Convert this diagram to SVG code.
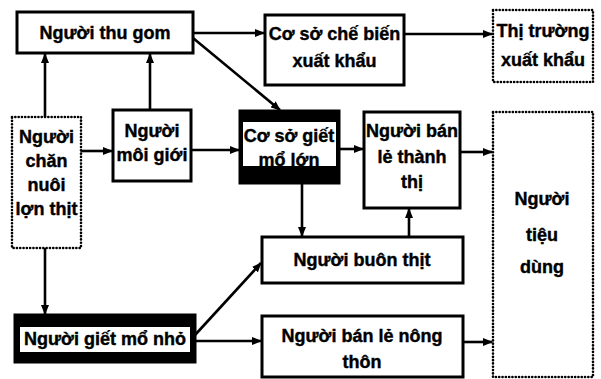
<svg xmlns="http://www.w3.org/2000/svg" width="601" height="379" viewBox="0 0 601 379">
<defs>
<marker id="ah" markerWidth="10" markerHeight="8" refX="9" refY="4" orient="auto" markerUnits="userSpaceOnUse">
<path d="M0,0 L10,4 L0,8 Z" fill="#000"/>
</marker>
<style>
.box{fill:#fff;stroke:#000;stroke-width:3}
.dot{fill:#fff;stroke:#000;stroke-width:2.6;stroke-dasharray:0.1 3.2;stroke-linecap:round}
.blk{fill:#000;stroke:#000;stroke-width:3}
.t{font-family:"Liberation Sans",Arial,sans-serif;font-weight:bold;font-size:18px;fill:#000;stroke:#000;stroke-width:0.4;text-anchor:middle}
.c{stroke:#000;stroke-width:2.6;fill:none;marker-end:url(#ah)}
</style>
</defs>
<rect width="601" height="379" fill="#fff"/>
<g id="connectors">
<line class="c" x1="193" y1="33" x2="264" y2="33"/>
<line class="c" x1="404" y1="34" x2="492" y2="34"/>
<line class="c" x1="45" y1="117" x2="45" y2="54"/>
<line class="c" x1="150" y1="110" x2="150" y2="54"/>
<line class="c" x1="193" y1="38" x2="280" y2="110"/>
<line class="c" x1="81" y1="151" x2="112" y2="151"/>
<line class="c" x1="191" y1="150" x2="239" y2="150"/>
<line class="c" x1="339" y1="149" x2="363" y2="149"/>
<line class="c" x1="460" y1="152" x2="492" y2="152"/>
<line class="c" x1="302" y1="183" x2="302" y2="236"/>
<line class="c" x1="409" y1="237" x2="409" y2="209"/>
<line class="c" x1="45" y1="248" x2="45" y2="314"/>
<line class="c" x1="195" y1="335" x2="261" y2="263"/>
<line class="c" x1="195" y1="341" x2="261" y2="341"/>
<line class="c" x1="463" y1="342" x2="492" y2="342"/>
</g>
<g id="thugom">
<rect class="box" x="17" y="12" width="176" height="41"/>
<text class="t" x="105" y="39">Người thu gom</text>
</g>
<g id="chebien">
<rect class="box" x="265" y="15" width="139" height="70"/>
<text class="t" x="334.5" y="40">Cơ sở chế biến</text>
<text class="t" x="334.5" y="67">xuất khẩu</text>
</g>
<g id="thitruong">
<rect class="dot" x="493" y="10" width="100" height="72"/>
<text class="t" x="543" y="37">Thị trường</text>
<text class="t" x="543" y="66">xuất khẩu</text>
</g>
<g id="channuoi">
<rect class="dot" x="12" y="117" width="69" height="131"/>
<text class="t" x="46.5" y="143">Người</text>
<text class="t" x="46.5" y="167">chăn</text>
<text class="t" x="46.5" y="191">nuôi</text>
<text class="t" x="46.5" y="215">lợn thịt</text>
</g>
<g id="moigioi">
<rect class="box" x="113" y="110" width="78" height="71"/>
<text class="t" x="152" y="137">Người</text>
<text class="t" x="152" y="161">môi giới</text>
</g>
<g id="gietmolon">
<rect class="blk" x="240" y="111" width="99" height="72"/>
<rect x="243" y="122" width="93" height="44" fill="#fff"/>
<text class="t" x="289" y="142">Cơ sở giết</text>
<text class="t" x="289" y="166">mổ lớn</text>
</g>
<g id="banlethanhthi">
<rect class="box" x="364" y="112" width="96" height="96"/>
<text class="t" x="412" y="137">Người bán</text>
<text class="t" x="412" y="163">lẻ thành</text>
<text class="t" x="412" y="188">thị</text>
</g>
<g id="tieudung">
<rect class="dot" x="493" y="112" width="100" height="265"/>
<text class="t" x="542" y="205">Người</text>
<text class="t" x="542" y="241">tiệu</text>
<text class="t" x="542" y="273">dùng</text>
</g>
<g id="buonthit">
<rect class="box" x="262" y="237" width="201" height="46"/>
<text class="t" x="362" y="266">Người buôn thịt</text>
</g>
<g id="gietmonho">
<rect class="blk" x="15" y="315" width="180" height="47"/>
<rect x="20" y="327" width="170" height="25" fill="#fff"/>
<text class="t" x="105" y="345">Người giết mổ nhỏ</text>
</g>
<g id="banlenongthon">
<rect class="box" x="262" y="316" width="201" height="61"/>
<text class="t" x="362" y="342">Người bán lẻ nông</text>
<text class="t" x="362" y="368">thôn</text>
</g>
</svg>
